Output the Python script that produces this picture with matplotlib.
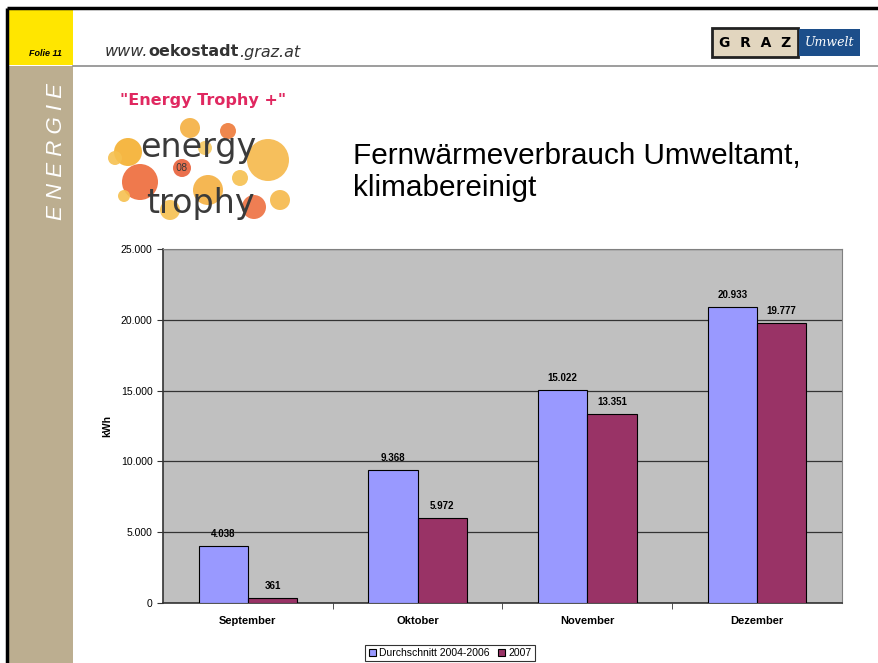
import matplotlib
matplotlib.use("Agg")
import matplotlib.pyplot as plt
import numpy as np
from matplotlib.patches import Rectangle, Circle
from matplotlib.ticker import FuncFormatter, MultipleLocator

months = ["September", "Oktober", "November", "Dezember"]
avg_2004_2006 = [4038, 9368, 15022, 20933]
year_2007 = [361, 5972, 13351, 19777]
series_names = ["Durchschnitt 2004-2006", "2007"]

plt.rcParams['font.family'] = ['Liberation Sans', 'DejaVu Sans']

W, H = 879, 663
fig = plt.figure(figsize=(W / 100, H / 100), dpi=100)

# slide background / decorations in pixel coordinates
bg = fig.add_axes([0, 0, 1, 1], zorder=0)
bg.set_xlim(0, W)
bg.set_ylim(H, 0)
bg.axis("off")

bg.add_patch(Rectangle((9, 9), 64, 56, color="#FFE600", lw=0))
bg.add_patch(Rectangle((9, 66), 64, H - 66, color="#BCAE90", lw=0))
bg.plot([7.5, 7.5], [7.5, H], color="black", lw=2.5, solid_capstyle="butt")
bg.plot([7.5, W], [7.5, 7.5], color="black", lw=2.5, solid_capstyle="butt")
bg.plot([73, W], [65.5, 65.5], color="#8C8C8C", lw=1.2)

bg.text(45, 53, "Folie 11", fontsize=6.5, fontweight="bold", fontstyle="italic",
        ha="center", va="center")
bg.text(57, 152, "E N E R G I E", fontsize=16, fontstyle="italic", color="white",
        rotation=90, ha="center", va="center")

# header url, three pieces side by side
fig.canvas.draw()
renderer = fig.canvas.get_renderer()
x0 = 105
for part, kw in [("www.", dict(fontstyle="italic")),
                 ("oekostadt", dict(fontweight="bold")),
                 (".graz.at", dict(fontstyle="italic"))]:
    t = fig.text(x0 / W, 1 - 52 / H, part, fontsize=11.5, color="#333333",
                 family="DejaVu Sans", va="center", ha="left", **kw)
    bb = t.get_window_extent(renderer)
    x0 += bb.width

# GRAZ Umwelt logo
bg.add_patch(Rectangle((712, 28), 86, 29, facecolor="#E2D6BF", edgecolor="#222222", lw=2))
bg.text(755, 43, "G  R  A  Z", fontsize=10, fontweight="bold", ha="center", va="center",
        family="DejaVu Sans")
bg.add_patch(Rectangle((799, 29), 61, 27, facecolor="#1C4E8A", lw=0))
bg.text(830, 42, "Umwelt", fontsize=9, fontstyle="italic", color="white",
        ha="center", va="center", family="DejaVu Serif")

# energy trophy logo
bg.text(203, 101, '"Energy Trophy +"', fontsize=11.5, fontweight="bold", color="#E02860",
        ha="center", va="center", family="DejaVu Sans")
circles = [(128, 152, 14, "#F4B030"), (115, 158, 7, "#F6C050"), (190, 128, 10, "#F4B040"),
           (228, 131, 8, "#EE7A3A"), (268, 160, 21, "#F6B84A"), (140, 182, 18, "#EE6A3A"),
           (182, 168, 9, "#E8603A"), (208, 190, 15, "#F4B040"), (240, 178, 8, "#F6C050"),
           (254, 207, 12, "#EE7040"), (280, 200, 10, "#F6B84A"), (170, 210, 10, "#F6C050"),
           (124, 196, 6, "#F6C050"), (205, 148, 7, "#F6C860")]
for cx, cy, r, c in circles:
    bg.add_patch(Circle((cx, cy), r, color=c, lw=0, alpha=0.9))
bg.text(198, 148, "energy", fontsize=24, color="#3A3A3A", ha="center", va="center",
        family="DejaVu Sans")
bg.text(182, 168, "08", fontsize=7, color="#3A3A3A", ha="center", va="center",
        family="DejaVu Sans")
bg.text(200, 204, "trophy", fontsize=24, color="#3A3A3A", ha="center", va="center",
        family="DejaVu Sans")

# title
bg.text(353, 172, "Fernwärmeverbrauch Umweltamt,\nklimabereinigt", fontsize=21.4,
        ha="left", va="center", linespacing=1.22)

# chart
ax = fig.add_axes([163 / W, 1 - 603 / H, (842 - 163) / W, (603 - 249) / H], zorder=2)
ax.set_facecolor("#C0C0C0")
x = np.arange(len(months))
bw = 0.29
b1 = ax.bar(x - bw, avg_2004_2006, bw, align="edge", color="#9999FF",
            edgecolor="black", lw=0.8, label=series_names[0], zorder=3)
b2 = ax.bar(x, year_2007, bw, align="edge", color="#993366",
            edgecolor="black", lw=0.8, label=series_names[1], zorder=3)

fmt = lambda v: f"{int(v):,}".replace(",", ".")
for bars, vals in [(b1, avg_2004_2006), (b2, year_2007)]:
    for rect, v in zip(bars, vals):
        ax.annotate(fmt(v), (rect.get_x() + rect.get_width() / 2, v),
                    xytext=(0, 5), textcoords="offset points", ha="center",
                    va="bottom", fontsize=7, fontweight="bold")

ax.set_xlim(-0.5, 3.5)
ax.set_ylim(0, 25000)
ax.yaxis.set_major_locator(MultipleLocator(5000))
ax.yaxis.set_major_formatter(FuncFormatter(lambda v, p: fmt(v)))
ax.grid(axis="y", color="#333333", lw=0.9, zorder=1)
ax.set_axisbelow(True)
ax.set_xticks(x)
ax.set_xticklabels(months, fontweight="bold", fontsize=8)
ax.set_xticks([0.5, 1.5, 2.5], minor=True)
ax.tick_params(axis="x", which="major", length=0, pad=9)
ax.tick_params(axis="x", which="minor", length=4, direction="out", color="#333333")
ax.tick_params(axis="y", length=4, direction="out", labelsize=7.5, color="#333333")
ax.set_ylabel("kWh", fontweight="bold", fontsize=7.5, labelpad=6)
for s in ["left", "bottom"]:
    ax.spines[s].set_color("#333333")
    ax.spines[s].set_linewidth(1.2)
for s in ["top", "right"]:
    ax.spines[s].set_color("#808080")
    ax.spines[s].set_linewidth(0.8)

leg = fig.legend(handles=[b1, b2], loc="center", bbox_to_anchor=(450 / W, 1 - 653 / H),
                 ncol=2, fontsize=7.5, frameon=True, fancybox=False, edgecolor="black",
                 handlelength=0.7, handleheight=0.7, handletextpad=0.3, columnspacing=0.8,
                 borderpad=0.3, borderaxespad=0)
leg.get_frame().set_linewidth(0.8)

fig.savefig("out.png", dpi=100)
